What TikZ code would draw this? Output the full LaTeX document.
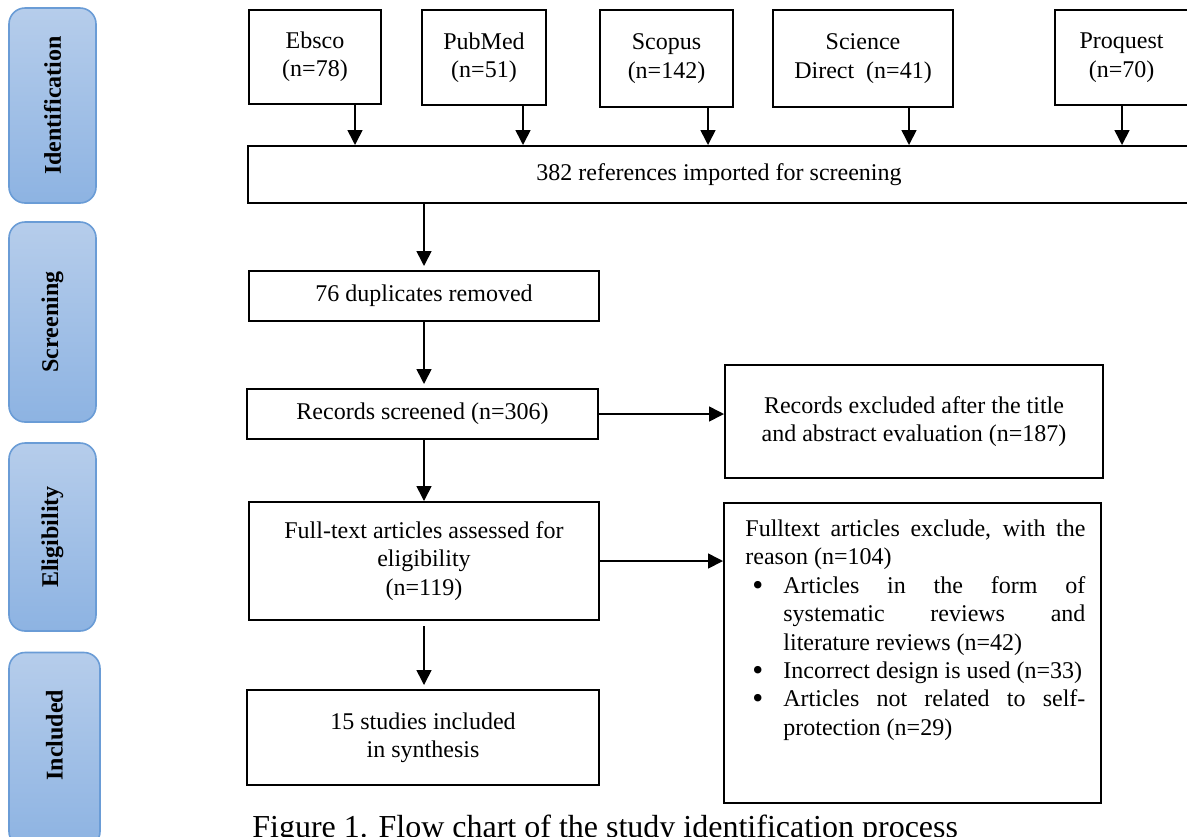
\documentclass[tikz,border=0pt]{standalone}
\usepackage{fontspec}
\setmainfont{Liberation Serif}
\usepackage{tikz}
\usepackage{xcolor}
\usetikzlibrary{arrows.meta, positioning, calc}
\definecolor{phaselight}{RGB}{182, 205, 235}
\definecolor{phasedark}{RGB}{141, 179, 226}
\definecolor{phaseborder}{RGB}{106, 156, 214}
\newenvironment{reasonlist}{\begin{list}{\raisebox{-0.9pt}{\scalebox{1.3}{\textbullet}}}{\setlength{\leftmargin}{19pt}\setlength{\labelwidth}{9pt}\setlength{\labelsep}{10pt}\setlength{\topsep}{0pt}\setlength{\partopsep}{0pt}\setlength{\itemsep}{0pt}\setlength{\parsep}{0pt}}}{\end{list}}
\tikzset{
    box/.style={rectangle, draw=black, line width=1pt, align=center, font=\fontsize{12}{14.2}\selectfont, inner sep=2pt},
    phase/.style={rectangle, rounded corners=8pt, draw=phaseborder, line width=0.8pt, top color=phaselight, bottom color=phasedark, rotate=90, font=\fontsize{12}{14.2}\selectfont\bfseries},
    arr/.style={-{Triangle[length=7.5pt, width=7.5pt]}, line width=0.8pt, black}
}
\begin{document}
\begin{tikzpicture}[x=0.5pt, y=-0.5pt]
    \useasboundingbox (0,0) rectangle (1187,836);
    \clip (0,0) rectangle (1187,836);
    % phases
    \node[phase, minimum width=97.5pt, minimum height=43.5pt] (ident) at (52.5,105.5) {Identification};
    \node[phase, minimum width=100pt, minimum height=43.5pt] (screen) at (52.5,322) {Screening};
    \node[phase, minimum width=94pt, minimum height=43.5pt] (elig-phase) at (52.5,537) {Eligibility};
    \node[phase, minimum width=97.5pt, minimum height=45.5pt] (incl-phase) at (54.5,750) {\hspace*{15pt}Included};
    % databases
    \node[box, minimum width=66pt, minimum height=47pt] (ebsco) at (315,57) {Ebsco\\(n=78)};
    \node[box, minimum width=62pt, minimum height=47.5pt] (pubmed) at (484,57.5) {PubMed\\(n=51)};
    \node[box, minimum width=66.5pt, minimum height=48.5pt] (scopus) at (666.5,58.5) {Scopus\\(n=142)};
    \node[box, minimum width=90pt, minimum height=48.5pt] (scidir) at (863,58.5) {Science\\Direct\ \ (n=41)};
    \node[box, minimum width=66.5pt, minimum height=47.5pt] (proquest) at (1121.5,57.5) {Proquest\\(n=70)};
    \node[box, minimum width=471pt, minimum height=28.5pt] (refs) at (719,174.5) {382 references imported for screening};
    % flow
    \node[box, minimum width=175pt, minimum height=25pt] (dup) at (424,296) {76 duplicates removed};
    \node[box, minimum width=175.5pt, minimum height=25pt] (screened) at (422.5,414) {Records screened (n=306)};
    \node[box, minimum width=189pt, minimum height=56.5pt] (excl1) at (914,421.5) {Records excluded after the title\\and abstract evaluation (n=187)};
    \node[box, minimum width=175pt, minimum height=59pt] (elig) at (424,561) {Full-text articles assessed for\\eligibility\\(n=119)};
    \node[box, minimum width=176pt, minimum height=47.5pt] (incl) at (423,737.5) {15 studies included\\in synthesis};
    \node[box, minimum width=188.5pt, minimum height=150pt] (fullexcl) at (912.5,653) {};
    \node[anchor=north west, inner sep=0pt, text width=170pt, align=justify, font=\fontsize{12}{14.2}\selectfont] (fullexcltext) at (745,519.5) {Fulltext articles exclude, with the\linebreak reason (n=104)
        \begin{reasonlist}
            \item Articles in the form of\linebreak systematic reviews and\linebreak literature reviews (n=42)
            \item \mbox{Incorrect design is used (n=33)}
            \item Articles not related to self-\linebreak protection (n=29)
        \end{reasonlist}};
    \node[anchor=base west, inner sep=0pt, font=\fontsize{16}{19}\selectfont] (caption) at (252,837) {Figure 1. Flow chart of the study identification process};
    % arrows
    \foreach \src/\ax in {ebsco/355, pubmed/523, scopus/708, scidir/909, proquest/1122}
        \draw[arr] (\src.south -| \ax,0) -- (refs.north -| \ax,0);
    \draw[arr, shorten >=2pt] (refs.south -| dup.north) -- (dup.north);
    \draw[arr, shorten >=2pt] (dup.south) -- (dup.south |- screened.north);
    \draw[arr] (screened.south -| elig.north) -- (elig.north);
    \draw[arr, shorten <=2.5pt, shorten >=2pt] (elig.south) -- (elig.south |- incl.north);
    \draw[arr] (screened.east) -- (screened.east -| excl1.west);
    \draw[arr] (elig.east) -- (elig.east -| fullexcl.west);
\end{tikzpicture}
\end{document}
